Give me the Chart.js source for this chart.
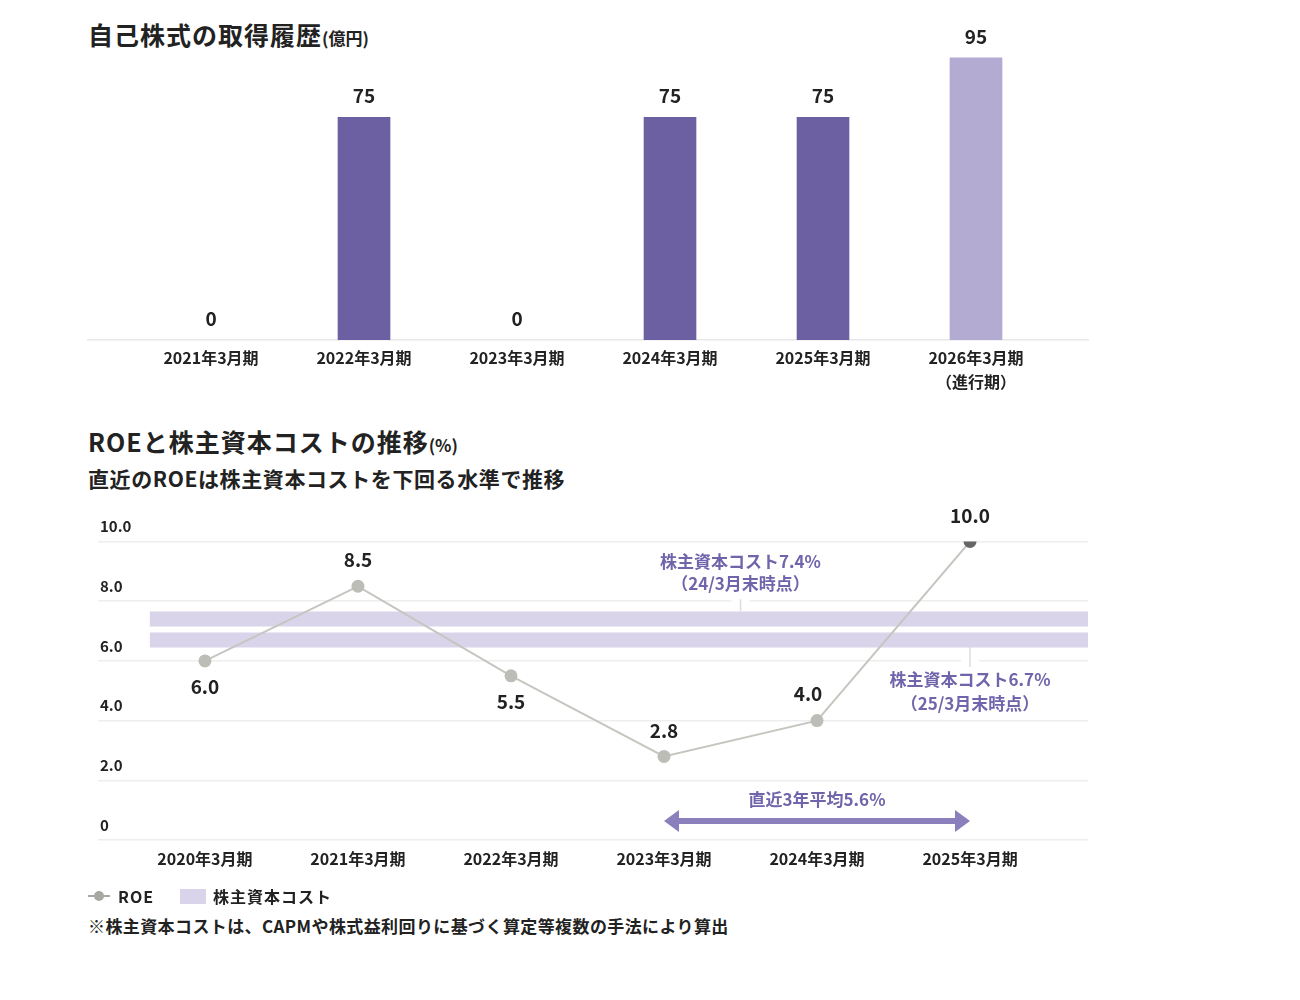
<!DOCTYPE html>
<html>
<head>
<meta charset="utf-8">
<script src="https://cdn.jsdelivr.net/npm/chart.js@4.4.0/dist/chart.umd.min.js"></script>
<style>
  body { margin: 0; background: #fff; font-family: "Noto Sans CJK JP", "Noto Sans", sans-serif; font-weight: bold; color: #222; }
  .wrap { position: relative; width: 1300px; height: 1000px; }
  canvas { position: absolute; left: 0; }
  .t { position: absolute; left: 88px; white-space: nowrap; }
  .title { font-size: 25px; letter-spacing: 1px; }
  .title small { font-size: 17px; letter-spacing: 0; }
  .sub { font-size: 21px; letter-spacing: 0.6px; }
  .legend { position: absolute; left: 88px; top: 884px; font-size: 16px; letter-spacing: 1px; display: flex; align-items: center; }
  .note { font-size: 17px; letter-spacing: 0.4px; }
</style>
</head>
<body>
<div class="wrap">
  <div class="t title" style="top:16px">自己株式の取得履歴<small>(億円)</small></div>
  <div class="t title" style="top:423px">ROEと株主資本コストの推移<small>(%)</small></div>
  <div class="t sub" style="top:463px">直近のROEは株主資本コストを下回る水準で推移</div>
  <canvas id="buyback" width="1300" height="410" style="top:0;width:1300px;height:410px"></canvas>
  <canvas id="roe" width="1300" height="410" style="top:490px;width:1300px;height:410px"></canvas>
  <div class="legend">
    <svg width="22" height="14"><line x1="0" y1="7" x2="22" y2="7" stroke="#a8a8a3" stroke-width="2"/><circle cx="11" cy="7" r="5" fill="#a8a8a3"/></svg>
    <span style="margin-left:8px">ROE</span>
    <span style="display:inline-block;width:26px;height:15px;background:#d9d4ea;margin-left:26px"></span>
    <span style="margin-left:7px">株主資本コスト</span>
  </div>
  <div class="t note" style="top:913px">※株主資本コストは、CAPMや株式益利回りに基づく算定等複数の手法により算出</div>
</div>
<script>
const FONT = '"Noto Sans CJK JP", "Noto Sans", sans-serif';

// 自己株式の取得履歴
const buybackLabels = ['2021年3月期', '2022年3月期', '2023年3月期', '2024年3月期', '2025年3月期', ['2026年3月期', '（進行期）']];
const buybackValues = [0, 75, 0, 75, 75, 95];
const buybackColors = ['#6c5fa2', '#6c5fa2', '#6c5fa2', '#6c5fa2', '#6c5fa2', '#b4abd3'];

// ROE
const roeLabels = ['2020年3月期', '2021年3月期', '2022年3月期', '2023年3月期', '2024年3月期', '2025年3月期'];
const roeValues = [6.0, 8.5, 5.5, 2.8, 4.0, 10.0];
const roeLabelPos = ['below', 'above', 'below', 'above', 'aboveLeft', 'above'];
const yTicks = [0, 2, 4, 6, 8, 10];

// 株主資本コスト
const costValues = [7.4, 6.7];
const costNotes = [['株主資本コスト7.4%', '（24/3月末時点）'], ['株主資本コスト6.7%', '（25/3月末時点）']];
const costNoteAt = [3.5, 5];
const avgFrom = 3, avgTo = 5;
const avgLabel = '直近3年平均5.6%';

Chart.defaults.font.family = FONT;
Chart.defaults.font.weight = 'bold';
Chart.defaults.color = '#222';

const barLabels = {
  id: 'barLabels',
  afterDatasetsDraw(chart) {
    const ctx = chart.ctx;
    const meta = chart.getDatasetMeta(0);
    ctx.save();
    ctx.font = 'bold 19px ' + FONT;
    ctx.fillStyle = '#222';
    ctx.textAlign = 'center';
    ctx.textBaseline = 'middle';
    meta.data.forEach((bar, i) => {
      ctx.fillText(String(buybackValues[i]), bar.x, bar.y - 21);
    });
    ctx.restore();
  }
};

new Chart(document.getElementById('buyback'), {
  type: 'bar',
  data: {
    datasets: [{
      data: buybackValues.map((v, i) => ({ x: i, y: v })),
      // zero bars would leave a hairline on the baseline
      backgroundColor: c => c.raw && c.raw.y === 0 ? 'rgba(0,0,0,0)' : buybackColors[c.dataIndex],
      barThickness: 52
    }]
  },
  options: {
    responsive: false,
    animation: false,
    events: [],
    layout: { padding: { left: 88, right: 212, top: 43, bottom: 0 } },
    plugins: { legend: { display: false }, tooltip: { enabled: false } },
    scales: {
      x: {
        type: 'linear',
        offset: false,
        min: -0.804,
        max: 5.732,
        afterBuildTicks: scale => { scale.ticks = buybackLabels.map((c, i) => ({ value: i })); },
        afterFit: scale => { scale.height = 70; },
        grid: { display: false, drawTicks: false, offset: false },
        border: { display: true, color: '#e8e8e8', width: 1.5 },
        ticks: {
          autoSkip: false,
          maxRotation: 0,
          padding: 6,
          font: { size: 16, weight: 'bold', lineHeight: 1.5 },
          callback: v => buybackLabels[v]
        }
      },
      y: { min: 0, max: 100, display: false }
    }
  },
  plugins: [barLabels]
});

const roeExtras = {
  id: 'roeExtras',
  beforeDatasetsDraw(chart) {
    const { ctx, scales: { x, y } } = chart;
    ctx.save();
    // connectors from the cost notes to the bands
    const gaps = [[costNoteAt[0], y.getPixelForValue(8), y.getPixelForValue(costValues[0]) - 8],
                  [costNoteAt[1], y.getPixelForValue(costValues[1]) + 8, y.getPixelForValue(6) + 6]];
    gaps.forEach(([xv, y1, y2]) => {
      const px = x.getPixelForValue(xv);
      ctx.fillStyle = '#fff';
      ctx.fillRect(px - 9, Math.min(y1, y2) - 3, 18, Math.abs(y2 - y1) + 6);
      ctx.strokeStyle = '#dddddd';
      ctx.lineWidth = 1.5;
      ctx.beginPath();
      ctx.moveTo(px, y1 - 2);
      ctx.lineTo(px, y2);
      ctx.stroke();
    });
    ctx.restore();
  },
  afterDatasetsDraw(chart) {
    const { ctx, scales: { x, y } } = chart;
    const meta = chart.getDatasetMeta(0);
    ctx.save();
    ctx.textAlign = 'center';
    ctx.textBaseline = 'middle';

    // point values
    ctx.font = 'bold 19px ' + FONT;
    ctx.fillStyle = '#222';
    meta.data.forEach((pt, i) => {
      const pos = roeLabelPos[i];
      let dx = 0, dy = -26;
      if (pos === 'below') dy = 26;
      if (pos === 'aboveLeft') { dx = -9; dy = -27; }
      ctx.fillText(roeValues[i].toFixed(1), pt.x + dx, pt.y + dy);
    });

    // cost notes
    ctx.font = 'bold 17px ' + FONT;
    ctx.fillStyle = '#7064ab';
    const n0x = x.getPixelForValue(costNoteAt[0]);
    const n0y = y.getPixelForValue(costValues[0]);
    ctx.fillText(costNotes[0][0], n0x, n0y - 58);
    ctx.fillText(costNotes[0][1], n0x, n0y - 36);
    const n1x = x.getPixelForValue(costNoteAt[1]);
    const n1y = y.getPixelForValue(costValues[1]);
    ctx.fillText(costNotes[1][0], n1x, n1y + 40);
    ctx.fillText(costNotes[1][1], n1x, n1y + 64);

    // 3 year average arrow
    const ax1 = x.getPixelForValue(avgFrom), ax2 = x.getPixelForValue(avgTo);
    const ay = y.getPixelForValue(0.64);
    ctx.strokeStyle = '#8b7fbc';
    ctx.fillStyle = '#8b7fbc';
    ctx.lineWidth = 6;
    ctx.beginPath();
    ctx.moveTo(ax1 + 12, ay);
    ctx.lineTo(ax2 - 12, ay);
    ctx.stroke();
    [[ax1, 1], [ax2, -1]].forEach(([tip, dir]) => {
      ctx.beginPath();
      ctx.moveTo(tip, ay);
      ctx.lineTo(tip + dir * 15, ay - 11);
      ctx.lineTo(tip + dir * 15, ay + 11);
      ctx.closePath();
      ctx.fill();
    });
    ctx.fillStyle = '#7064ab';
    ctx.font = 'bold 17px ' + FONT;
    ctx.fillText(avgLabel, (ax1 + ax2) / 2, ay - 21);
    ctx.restore();
  }
};

const xMin = -0.699, xMax = 5.771, bandStart = -0.36;

new Chart(document.getElementById('roe'), {
  type: 'line',
  data: {
    datasets: [
      {
        label: 'ROE',
        data: roeValues.map((v, i) => ({ x: i, y: v })),
        borderColor: '#c6c6c1',
        borderWidth: 2,
        pointRadius: 6.5,
        pointBorderWidth: 0,
        pointBackgroundColor: roeValues.map((v, i) => i === roeValues.length - 1 ? '#666666' : '#bdbdb7'),
        order: 0
      },
      ...costValues.map(c => ({
        label: '株主資本コスト',
        data: [{ x: bandStart, y: c }, { x: xMax, y: c }],
        borderColor: '#d9d4ea',
        borderWidth: 15,
        borderCapStyle: 'butt',
        pointRadius: 0,
        order: 1
      }))
    ]
  },
  options: {
    responsive: false,
    animation: false,
    events: [],
    layout: { padding: { left: 98, right: 212, top: 51.5, bottom: 0 } },
    plugins: { legend: { display: false }, tooltip: { enabled: false } },
    scales: {
      x: {
        type: 'linear',
        min: xMin,
        max: xMax,
        afterBuildTicks: scale => { scale.ticks = roeLabels.map((c, i) => ({ value: i })); },
        afterFit: scale => { scale.height = 60; },
        grid: { display: false, drawTicks: false },
        border: { display: false },
        ticks: {
          autoSkip: false,
          maxRotation: 0,
          padding: 9,
          font: { size: 16, weight: 'bold' },
          callback: v => roeLabels[v]
        }
      },
      y: {
        min: 0,
        max: 10,
        afterBuildTicks: scale => { scale.ticks = yTicks.map(v => ({ value: v })); },
        afterFit: scale => { scale.width = 0; },
        grid: { color: '#eeeeee', lineWidth: 1.5, drawTicks: false },
        border: { display: false },
        ticks: {
          mirror: true,
          padding: 2,
          labelOffset: -15,
          font: { size: 15, weight: 'bold' },
          callback: v => v === 0 ? '0' : v.toFixed(1)
        }
      }
    }
  },
  plugins: [roeExtras]
});
</script>
</body>
</html>
